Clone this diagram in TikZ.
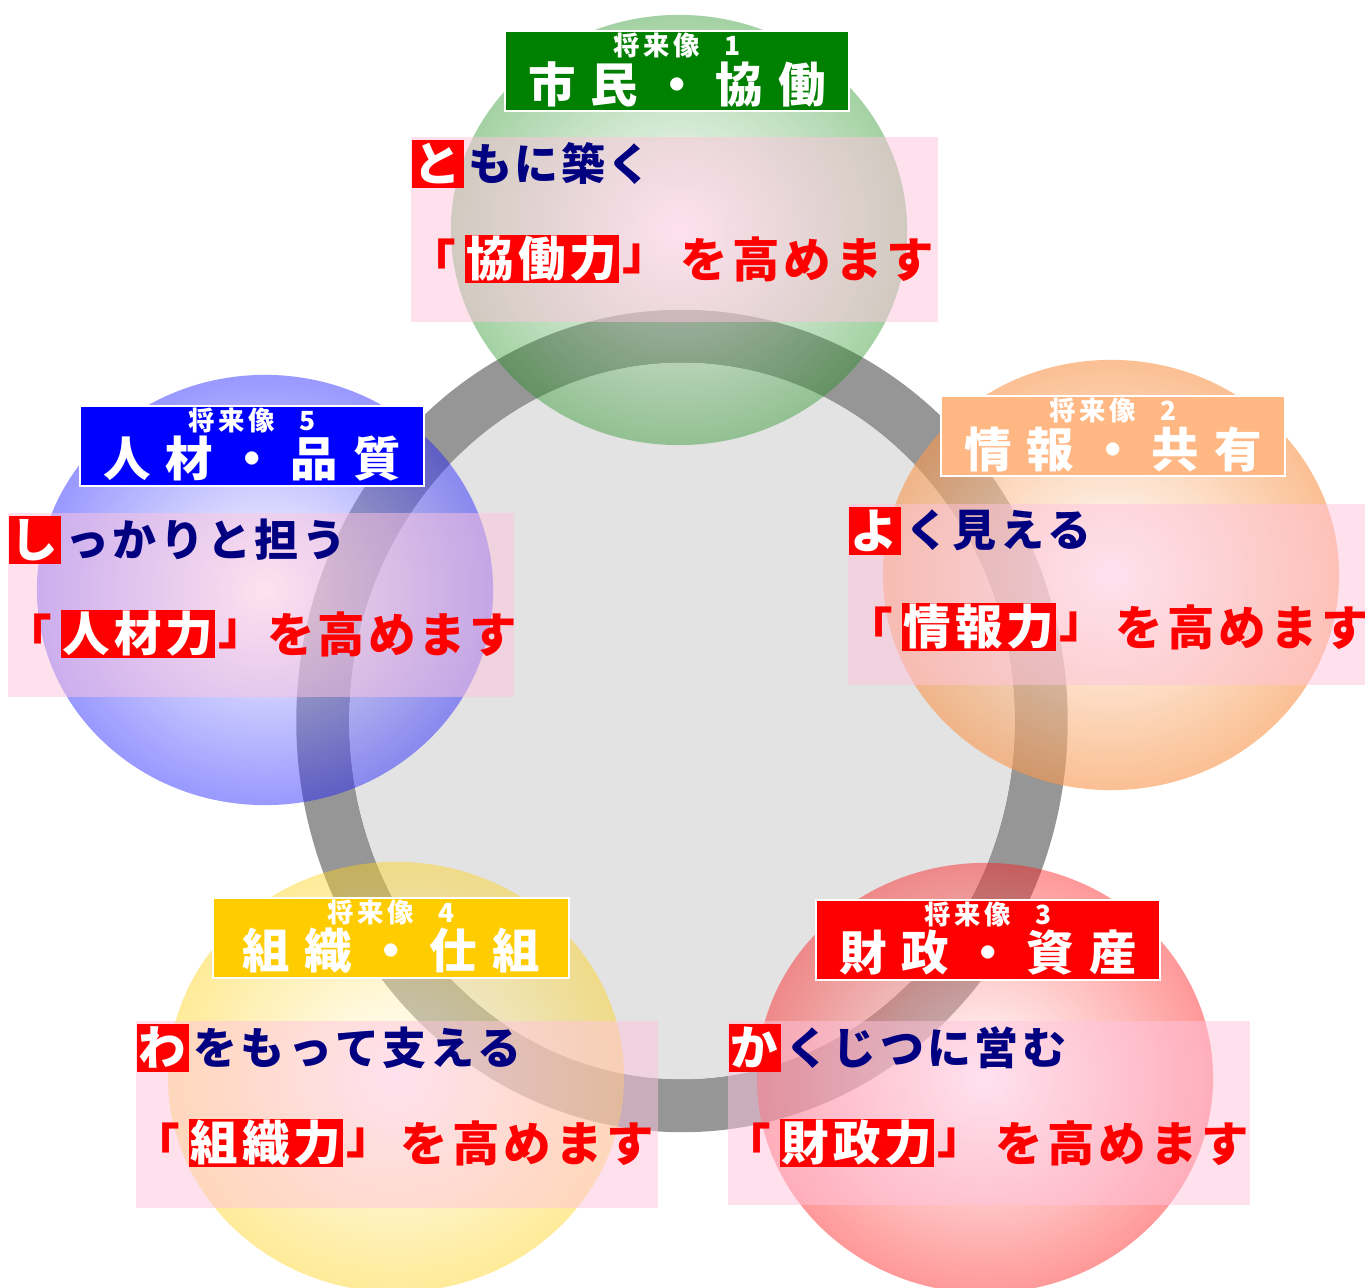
\documentclass[tikz,border=0pt]{standalone}
\usepackage{fontspec}
\setmainfont{Noto Sans CJK JP}
\usetikzlibrary{positioning}

\definecolor{vgreen}{RGB}{0,128,0}
\definecolor{vorange}{RGB}{247,140,60}
\definecolor{vorangebox}{RGB}{255,183,132}
\definecolor{vred}{RGB}{255,0,0}
\definecolor{vyellow}{RGB}{255,204,0}
\definecolor{vblue}{RGB}{0,0,255}
\definecolor{ringgray}{RGB}{150,150,150}
\definecolor{innergray}{RGB}{227,227,227}
\definecolor{panelpink}{RGB}{255,196,222}
\definecolor{navytext}{RGB}{0,0,128}
\colorlet{ballc}{vgreen}

% letter spacing between characters
\makeatletter
\def\spaced#1#2{\def\sp@kern{#1}\sp@first#2\relax}
\def\sp@first#1{#1\sp@rest}
\def\sp@rest#1{\ifx#1\relax\else\kern\sp@kern\relax#1\expandafter\sp@rest\fi}
\makeatother
\newcommand\visionno[1]{\spaced{0.035cm}{将来像}\hspace{0.24cm}#1}

\pgfdeclareradialshading[ballc]{sphere}{\pgfpoint{0bp}{0bp}}{color(0bp)=(white); color(28bp)=(ballc); color(50bp)=(ballc)}

\tikzset{
  titlebox/.style={draw=white, line width=0.02cm, minimum width=3.44cm, minimum height=0.8cm, inner sep=0pt},
  titlesmall/.style={text=white, inner sep=0pt, font=\bfseries\fontsize{7.5}{9}\selectfont},
  titlebig/.style={text=white, inner sep=0pt, font=\bfseries\fontsize{13.5}{15}\selectfont},
  panel/.style={fill=panelpink, fill opacity=.5},
  firstchar/.style={fill=red, text=white, minimum width=0.52cm, minimum height=0.48cm, inner sep=0pt, anchor=north west, font=\bfseries\fontsize{13.5}{15}\selectfont},
  navyline/.style={text=navytext, inner sep=0pt, font=\bfseries\fontsize{12.5}{14}\selectfont},
  keyword/.style={fill=red, text=white, minimum height=0.48cm, inner xsep=0.02cm, inner ysep=0pt, anchor=west, font=\bfseries\fontsize{13.5}{15}\selectfont},
  bracket/.style={text=red, inner sep=0pt, font=\bfseries\fontsize{13.5}{15}\selectfont},
  goal/.style={text=red, inner sep=0pt, anchor=west, font=\bfseries\fontsize{13.5}{15}\selectfont}
}

\begin{document}
\begin{tikzpicture}[x=0.01cm, y=-0.01cm]
\useasboundingbox (0,0) rectangle (1365,1288);
% ring
\fill[ringgray, even odd rule] (682,721) ellipse [x radius=3.855cm, y radius=4.11cm]
  (682,721) ellipse [x radius=3.325cm, y radius=3.58cm];
\fill[innergray] (682,721) ellipse [x radius=3.325cm, y radius=3.58cm];
% spheres
\foreach \cx/\cy/\col/\op in {679/230/vgreen/.4, 1111/575/vorange/.62, 985/1078/vred/.45, 396/1077/vyellow/.45, 265/590/vblue/.45}{
  \colorlet{ballc}{\col}
  \shade[shading=sphere, fill opacity=\op] (\cx,\cy) ellipse [x radius=2.28cm, y radius=2.15cm];
}
% panels
\fill[panel] (411,137) rectangle (938,322);
\fill[panel] (848,504) rectangle (1365,685);
\fill[panel] (728,1021) rectangle (1250,1205);
\fill[panel] (136,1021) rectangle (658,1208);
\fill[panel] (8,513) rectangle (514,697);

% vision 1
\node[titlebox, fill=vgreen] (title1) at (677,71) {};
\node[titlesmall] (title1a) at (677,45) {\visionno{1}};
\node[titlebig] (title1b) at (677,84) {\spaced{0.15cm}{市民・協働}};
\node[firstchar] (first1) at (411,139) {と};
\node[navyline, right=0.03cm of first1] (line1) {\spaced{0.025cm}{もに築く}};
\node[keyword] (key1) at (464,259) {\spaced{0.04cm}{協働力}};
\node[bracket, left=0.07cm of key1] (open1) {「};
\node[bracket, right=0.02cm of key1] (close1) {」};
\node[goal] (goal1) at (680,259) {\spaced{0.04cm}{を高めます}};

% vision 2
\node[titlebox, fill=vorangebox] (title2) at (1113,436) {};
\node[titlesmall] (title2a) at (1113,410) {\visionno{2}};
\node[titlebig] (title2b) at (1113,449) {\spaced{0.15cm}{情報・共有}};
\node[firstchar] (first2) at (848,506) {よ};
\node[navyline, right=0.03cm of first2] (line2) {\spaced{0.035cm}{く見える}};
\node[keyword] (key2) at (901,627) {\spaced{0.04cm}{情報力}};
\node[bracket, left=0.07cm of key2] (open2) {「};
\node[bracket, right=0.02cm of key2] (close2) {」};
\node[goal] (goal2) at (1115,627) {\spaced{0.04cm}{を高めます}};

% vision 3
\node[titlebox, fill=vred] (title3) at (988,940) {};
\node[titlesmall] (title3a) at (988,914) {\visionno{3}};
\node[titlebig] (title3b) at (988,953) {\spaced{0.15cm}{財政・資産}};
\node[firstchar] (first3) at (728,1023) {か};
\node[navyline, right=0.03cm of first3] (line3) {\spaced{0.035cm}{くじつに営む}};
\node[keyword] (key3) at (779,1143) {\spaced{0.04cm}{財政力}};
\node[bracket, left=0.07cm of key3] (open3) {「};
\node[bracket, right=0.02cm of key3] (close3) {」};
\node[goal] (goal3) at (995,1143) {\spaced{0.04cm}{を高めます}};

% vision 4
\node[titlebox, fill=vyellow, minimum width=3.56cm] (title4) at (391,938) {};
\node[titlesmall] (title4a) at (391,912) {\visionno{4}};
\node[titlebig] (title4b) at (391,951) {\spaced{0.15cm}{組織・仕組}};
\node[firstchar] (first4) at (136,1023) {わ};
\node[navyline, right=0.03cm of first4] (line4) {\spaced{0.035cm}{をもって支える}};
\node[keyword] (key4) at (188,1143) {\spaced{0.04cm}{組織力}};
\node[bracket, left=0.07cm of key4] (open4) {「};
\node[bracket, right=0.02cm of key4] (close4) {」};
\node[goal] (goal4) at (400,1143) {\spaced{0.04cm}{を高めます}};

% vision 5
\node[titlebox, fill=vblue] (title5) at (252,446) {};
\node[titlesmall] (title5a) at (252,420) {\visionno{5}};
\node[titlebig] (title5b) at (252,459) {\spaced{0.15cm}{人材・品質}};
\node[firstchar] (first5) at (8,515) {し};
\node[navyline, right=0.03cm of first5] (line5) {\spaced{0.035cm}{っかりと担う}};
\node[keyword] (key5) at (60,634) {\spaced{0.04cm}{人材力}};
\node[bracket, left=0.07cm of key5] (open5) {「};
\node[bracket, right=0.02cm of key5] (close5) {」};
\node[goal, right=0pt of close5] (goal5) {\spaced{0.03cm}{を高めます}};
\end{tikzpicture}
\end{document}
